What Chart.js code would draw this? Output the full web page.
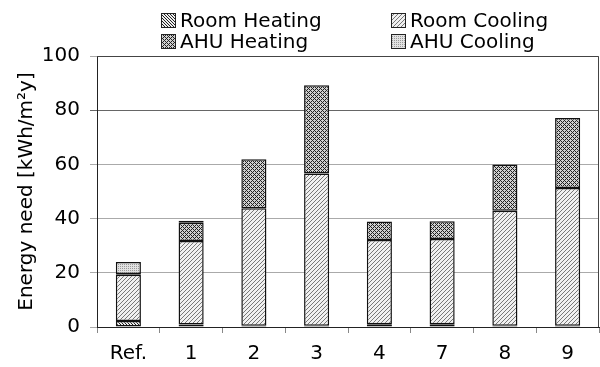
<!DOCTYPE html>
<html>
<head>
<meta charset="utf-8">
<script src="https://cdn.jsdelivr.net/npm/chart.js@4.4.1/dist/chart.umd.min.js"></script>
<style>
  html, body { margin: 0; padding: 0; background: #fff; }
  #wrap { width: 600px; height: 367px; }
</style>
</head>
<body>
<div id="wrap"><canvas id="chartCanvas" width="600" height="367"></canvas></div>
<script>
const categories = ['Ref.', '1', '2', '3', '4', '7', '8', '9'];
const roomHeating = [2.2, 0.9, 0.5, 0.5, 1.0, 1.0, 0.5, 0.5];
const roomCooling = [17.1, 30.8, 43.3, 56.1, 31.1, 31.5, 42.4, 50.8];
const ahuHeating = [0.3, 6.8, 18.1, 32.6, 6.8, 6.5, 17.1, 25.8];
const ahuCooling = [4.4, 0.7, 0, 0, 0, 0, 0, 0];
const yTicks = [0, 20, 40, 60, 80, 100];

const FONT = 'DejaVu Sans';

// small pixel patterns for the bar fills
function makePattern(size, bg, fg, test) {
  const c = document.createElement('canvas');
  c.width = size; c.height = size;
  const g = c.getContext('2d');
  g.fillStyle = bg;
  g.fillRect(0, 0, size, size);
  g.fillStyle = fg;
  for (let x = 0; x < size; x++) {
    for (let y = 0; y < size; y++) {
      if (test(x, y)) g.fillRect(x, y, 1, 1);
    }
  }
  return document.getElementById('chartCanvas').getContext('2d').createPattern(c, 'repeat');
}

const pRoomHeat = makePattern(3, '#eeeeee', '#222', (x, y) => (x - y + 3) % 3 === 0);
const pRoomCool = makePattern(4, '#f0f0f0', '#777', (x, y) => (x + y) % 4 === 3);
const pAhuHeat = makePattern(4, '#d0d0d0', '#222', (x, y) => (x + y) % 4 === 0 || (x - y + 4) % 4 === 0);
const pAhuCool = makePattern(2, '#e2e2e2', '#999', (x, y) => x === 0 && y === 0);

const legendItems = [
  { label: 'Room Heating', fill: pRoomHeat },
  { label: 'Room Cooling', fill: pRoomCool },
  { label: 'AHU Heating', fill: pAhuHeat },
  { label: 'AHU Cooling', fill: pAhuCool }
];

// two-column legend above the plot
const gridLegend = {
  id: 'gridLegend',
  afterDraw(chart) {
    const ctx = chart.ctx;
    const cols = [161, 391];
    const rows = [21, 42];
    ctx.save();
    ctx.font = '20px "' + FONT + '"';
    ctx.textBaseline = 'middle';
    legendItems.forEach((item, i) => {
      const x = cols[i % 2];
      const y = rows[Math.floor(i / 2)];
      ctx.fillStyle = item.fill;
      ctx.fillRect(x, y - 8, 15, 15);
      ctx.strokeStyle = '#222';
      ctx.lineWidth = 1;
      ctx.strokeRect(x + 0.5, y - 7.5, 14, 14);
      ctx.fillStyle = '#000';
      ctx.fillText(item.label, x + 19, y + 1);
    });
    ctx.restore();
  }
};

// top and right edges of the plot box
const plotBox = {
  id: 'plotBox',
  afterDatasetsDraw(chart) {
    const a = chart.chartArea;
    const ctx = chart.ctx;
    ctx.save();
    ctx.strokeStyle = '#444';
    ctx.lineWidth = 1;
    ctx.beginPath();
    ctx.moveTo(a.left, Math.round(a.top) + 0.5);
    ctx.lineTo(Math.round(a.right) - 0.5, Math.round(a.top) + 0.5);
    ctx.lineTo(Math.round(a.right) - 0.5, a.bottom);
    ctx.stroke();
    ctx.restore();
  }
};

const ds = (label, data, fill) => ({
  label: label,
  data: data,
  backgroundColor: fill,
  borderColor: '#111',
  borderWidth: 1.5,
  borderSkipped: false,
  barPercentage: 0.4,
  categoryPercentage: 1.0
});

new Chart(document.getElementById('chartCanvas'), {
  type: 'bar',
  data: {
    labels: categories,
    datasets: [
      ds('Room Heating', roomHeating, pRoomHeat),
      ds('Room Cooling', roomCooling, pRoomCool),
      ds('AHU Heating', ahuHeating, pAhuHeat),
      ds('AHU Cooling', ahuCooling, pAhuCool)
    ]
  },
  options: {
    responsive: false,
    animation: false,
    devicePixelRatio: 1,
    layout: { padding: { top: 56, right: 1, left: 0, bottom: 0 } },
    plugins: {
      legend: { display: false },
      tooltip: { enabled: false }
    },
    scales: {
      x: {
        stacked: true,
        grid: { offset: true, drawOnChartArea: false, tickLength: 6, color: '#888' },
        border: { color: '#222', width: 1 },
        ticks: { color: '#000', font: { family: FONT, size: 20 }, padding: 9 },
        afterFit(scale) { scale.height = 40; }
      },
      y: {
        stacked: true,
        min: 0,
        max: 100,
        afterBuildTicks(scale) { scale.ticks = yTicks.map(v => ({ value: v })); },
        grid: {
          color: ctx => (ctx.tick && ctx.tick.value === 80) ? '#666' : '#aaa',
          tickLength: 7
        },
        border: { color: '#222', width: 1 },
        ticks: { color: '#000', font: { family: FONT, size: 20 }, padding: 10 },
        title: {
          display: true,
          text: 'Energy need [kWh/m²y]',
          color: '#000',
          font: { family: FONT, size: 20 },
          padding: { top: 15, bottom: 0 }
        },
        afterFit(scale) { scale.width = 97; }
      }
    }
  },
  plugins: [gridLegend, plotBox]
});
</script>
</body>
</html>
